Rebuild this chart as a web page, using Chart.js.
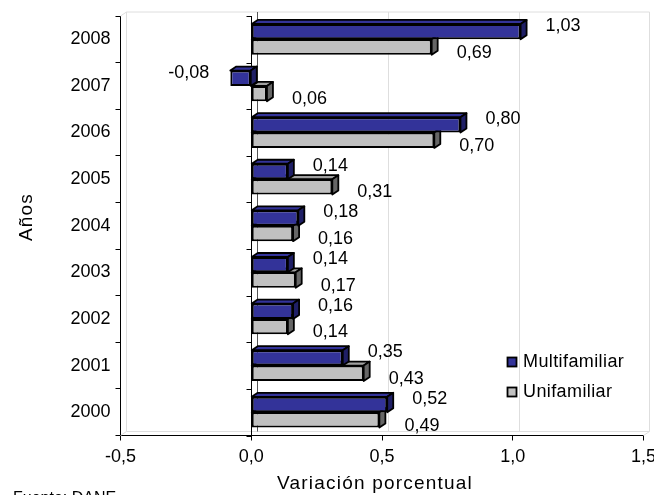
<!DOCTYPE html>
<html>
<head>
<meta charset="utf-8">
<script src="https://cdn.jsdelivr.net/npm/chart.js@4/dist/chart.umd.min.js"></script>
<style>
  html, body { margin: 0; padding: 0; background: #fff; }
  #wrap { width: 654px; height: 495px; }
</style>
</head>
<body>
<div id="wrap"><canvas id="chart" width="654" height="495"></canvas></div>
<script>
// data
const years = ['2008', '2007', '2006', '2005', '2004', '2003', '2002', '2001', '2000'];
const multifamiliar = [1.03, -0.08, 0.80, 0.14, 0.18, 0.14, 0.16, 0.35, 0.52];
const unifamiliar = [0.69, 0.06, 0.70, 0.31, 0.16, 0.17, 0.14, 0.43, 0.49];
const seriesNames = ['Multifamiliar', 'Unifamiliar'];
const xMin = -0.5, xMax = 1.5, xStep = 0.5;

// look
const FONT = '"Liberation Sans", Arial, sans-serif';
const DX = 6, DY = 4; // 3D depth
const faces = [
  { front: '#333399', top: '#333399', side: '#1f1f66' },
  { front: '#c0c0c0', top: '#a0a0a0', side: '#666666' }
];
const comma = (v, d) => v.toFixed(d).replace('.', ',');

const depthPlugin = {
  id: 'depth',
  beforeDatasetsDraw(chart) {
    const { ctx, chartArea: a, scales: { x } } = chart;
    ctx.save();
    // back wall + floor
    ctx.strokeStyle = '#dedede';
    ctx.lineWidth = 1;
    ctx.beginPath();
    ctx.moveTo(a.left, a.bottom); ctx.lineTo(a.left + DX, a.bottom - DY);
    ctx.lineTo(a.right + DX, a.bottom - DY); ctx.lineTo(a.right, a.bottom);
    ctx.moveTo(a.left + DX, a.bottom - DY); ctx.lineTo(a.left + DX, a.top - DY);
    ctx.lineTo(a.right + DX, a.top - DY); ctx.lineTo(a.right + DX, a.bottom - DY);
    ctx.moveTo(a.left, a.top); ctx.lineTo(a.left + DX, a.top - DY);
    for (let v = xMin + xStep; v < xMax; v += xStep) {
      if (Math.abs(v) < 1e-9) continue;
      const px = Math.round(x.getPixelForValue(v)) + 0.5 + DX;
      ctx.moveTo(px, a.top - DY); ctx.lineTo(px, a.bottom - DY);
    }
    ctx.stroke();
    // zero lines (back and front) with category ticks
    const z = Math.round(x.getPixelForValue(0)) + 0.5;
    ctx.strokeStyle = '#555';
    ctx.beginPath();
    ctx.moveTo(z + DX, a.top - DY); ctx.lineTo(z + DX, a.bottom - DY);
    ctx.stroke();
    ctx.strokeStyle = '#000';
    ctx.beginPath();
    ctx.moveTo(z, a.top); ctx.lineTo(z, a.bottom);
    for (let i = 0; i <= years.length; i++) {
      const py = Math.round(a.top + (a.bottom - a.top) * i / years.length) + 0.5;
      ctx.moveTo(z - 5, py); ctx.lineTo(z, py);
    }
    ctx.stroke();

    // top and side faces of bars, back series first
    ctx.lineWidth = 1.8;
    ctx.strokeStyle = '#000';
    ctx.lineJoin = 'round';
    for (let d = chart.data.datasets.length - 1; d >= 0; d--) {
      const meta = chart.getDatasetMeta(d);
      meta.data.forEach(el => {
        const p = el.getProps(['x', 'y', 'base', 'height'], true);
        const l = Math.min(p.x, p.base), r = Math.max(p.x, p.base);
        const t = p.y - p.height / 2, b = p.y + p.height / 2;
        ctx.fillStyle = faces[d].top;
        ctx.beginPath();
        ctx.moveTo(l, t); ctx.lineTo(l + DX, t - DY); ctx.lineTo(r + DX, t - DY); ctx.lineTo(r, t);
        ctx.closePath(); ctx.fill(); ctx.stroke();
        ctx.fillStyle = faces[d].side;
        ctx.beginPath();
        ctx.moveTo(r, t); ctx.lineTo(r + DX, t - DY); ctx.lineTo(r + DX, b - DY); ctx.lineTo(r, b);
        ctx.closePath(); ctx.fill(); ctx.stroke();
      });
    }
    ctx.restore();
  },
  afterDatasetsDraw(chart) {
    const { ctx } = chart;
    ctx.save();
    ctx.font = '18px ' + FONT;
    ctx.fillStyle = '#000';
    ctx.textBaseline = 'middle';
    chart.data.datasets.forEach((ds, d) => {
      chart.getDatasetMeta(d).data.forEach((el, i) => {
        const v = ds.data[i];
        const p = el.getProps(['x', 'y', 'base', 'height'], true);
        const t = p.y - p.height / 2, b = p.y + p.height / 2;
        const cy = d === 0 ? t + 2 : b - 2;
        if (v < 0) {
          ctx.textAlign = 'right';
          ctx.fillText(comma(v, 2), p.x - 21, cy);
        } else {
          ctx.textAlign = 'left';
          ctx.fillText(comma(v, 2), p.x + 25, cy);
        }
      });
    });
    ctx.restore();
  },
  afterDraw(chart) {
    const { ctx } = chart;
    ctx.save();
    ctx.fillStyle = '#000';
    // axis titles
    ctx.font = '19px ' + FONT;
    ctx.letterSpacing = '1.2px';
    ctx.textAlign = 'center';
    ctx.textBaseline = 'alphabetic';
    ctx.fillText('Variación porcentual', 375, 489);
    ctx.save();
    ctx.translate(32, 217);
    ctx.rotate(-Math.PI / 2);
    ctx.fillText('Años', 0, 0);
    ctx.restore();
    // legend
    ctx.font = '18px ' + FONT;
    ctx.letterSpacing = '0.4px';
    ctx.textAlign = 'left';
    ctx.textBaseline = 'middle';
    ctx.lineWidth = 1.8;
    ctx.strokeStyle = '#000';
    seriesNames.forEach((name, d) => {
      const cy = 362 + d * 30;
      ctx.fillStyle = faces[d].front;
      ctx.fillRect(507.5, cy - 4.5, 9, 9);
      ctx.strokeRect(507.5, cy - 4.5, 9, 9);
      ctx.fillStyle = '#000';
      ctx.fillText(name, 523, cy);
    });
    // source
    ctx.font = '16px ' + FONT;
    ctx.letterSpacing = '0px';
    ctx.textBaseline = 'alphabetic';
    ctx.fillText('Fuente: DANE', 13, 503);
    ctx.restore();
  }
};

new Chart(document.getElementById('chart'), {
  type: 'bar',
  data: {
    labels: years,
    datasets: [
      { label: seriesNames[0], data: multifamiliar, backgroundColor: faces[0].front },
      { label: seriesNames[1], data: unifamiliar, backgroundColor: faces[1].front }
    ]
  },
  options: {
    indexAxis: 'y',
    responsive: false,
    animation: false,
    devicePixelRatio: 1,
    layout: { padding: { top: 16, right: 10.5, left: 0, bottom: 0 } },
    datasets: {
      bar: {
        borderColor: '#000',
        borderWidth: 2,
        borderSkipped: false,
        categoryPercentage: 0.66,
        barPercentage: 1.0
      }
    },
    plugins: {
      legend: { display: false },
      tooltip: { enabled: false }
    },
    scales: {
      x: {
        type: 'linear',
        min: xMin,
        max: xMax,
        ticks: {
          stepSize: xStep,
          autoSkip: false,
          maxRotation: 0,
          padding: 6,
          color: '#000',
          font: { family: FONT, size: 18 },
          callback: v => comma(v, 1)
        },
        grid: { drawOnChartArea: false, tickLength: 5, color: '#000' },
        border: { color: '#000', width: 1 },
        afterFit(s) { s.height = 59.5; s.paddingLeft = 0; s.paddingRight = 0; }
      },
      y: {
        type: 'category',
        ticks: {
          autoSkip: false,
          padding: 5,
          color: '#000',
          font: { family: FONT, size: 18 }
        },
        grid: { offset: true, drawOnChartArea: false, tickLength: 5, color: '#000' },
        border: { color: '#000', width: 1 },
        afterFit(s) { s.width = 120.5; s.paddingTop = 0; s.paddingBottom = 0; }
      }
    }
  },
  plugins: [depthPlugin]
});
</script>
</body>
</html>
